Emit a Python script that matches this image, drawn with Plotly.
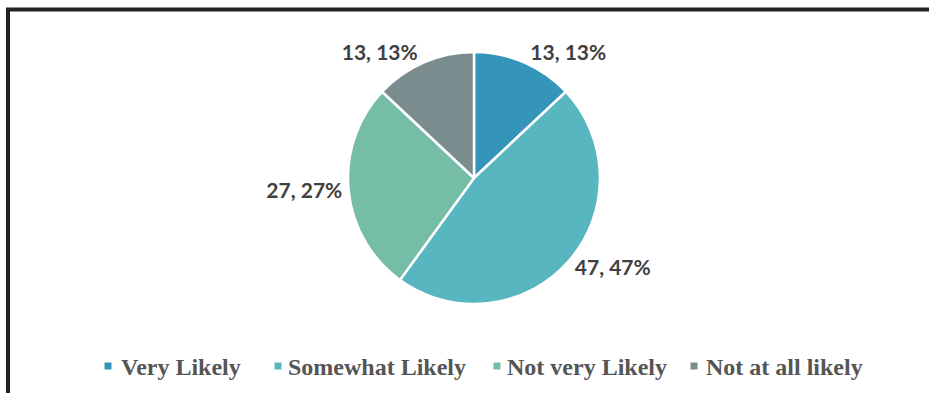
import plotly.graph_objects as go

# Survey responses
categories = ["Very Likely", "Somewhat Likely", "Not very Likely", "Not at all likely"]
counts = [13, 47, 27, 13]
colors = ["#3494BA", "#58B6C0", "#75BDA7", "#7A8C8E"]

W, H = 929, 393
cx, cy, r = 474, 178, 126  # pie centre and radius in pixels

fig = go.Figure(
    go.Pie(
        labels=categories,
        values=counts,
        sort=False,
        direction="clockwise",
        rotation=0,
        marker=dict(colors=colors, line=dict(color="white", width=2.5)),
        texttemplate="%{value}, %{percent:.0%}",
        textposition="outside",
        textfont=dict(family="Lato", size=21, color="#404040", weight="bold"),
        hoverinfo="label+value+percent",
        showlegend=False,
        domain=dict(
            x=[(cx - r) / W, (cx + r) / W],
            y=[1 - (cy + r) / H, 1 - (cy - r) / H],
        ),
    )
)

# Dark frame along the top and left edges
fig.add_shape(
    type="rect", xref="paper", yref="paper",
    x0=8 / W, x1=1.05, y0=-0.05, y1=1 - 9.5 / H,
    line=dict(color="#222222", width=4), fillcolor="rgba(0,0,0,0)",
)

# Legend row: small square swatch followed by the category name
legend_marker_x = [108, 278, 497, 694]
legend_text_x = [119, 286, 505, 704]
legend_y = 366
for name, col, mx, tx in zip(categories, colors, legend_marker_x, legend_text_x):
    fig.add_shape(
        type="rect", xref="paper", yref="paper",
        x0=(mx - 3.5) / W, x1=(mx + 3.5) / W,
        y0=1 - (legend_y + 3.5) / H, y1=1 - (legend_y - 3.5) / H,
        line=dict(width=0), fillcolor=col,
    )
    fig.add_annotation(
        x=tx / W, y=1 - (legend_y + 1) / H, xref="paper", yref="paper",
        xanchor="left", yanchor="middle", showarrow=False, text=name,
        font=dict(family="Liberation Serif", size=24, color="#555555", weight="bold"),
    )

fig.update_layout(
    width=W, height=H,
    margin=dict(l=0, r=0, t=0, b=0),
    paper_bgcolor="white",
    showlegend=False,
)

fig.write_html("out.html")
